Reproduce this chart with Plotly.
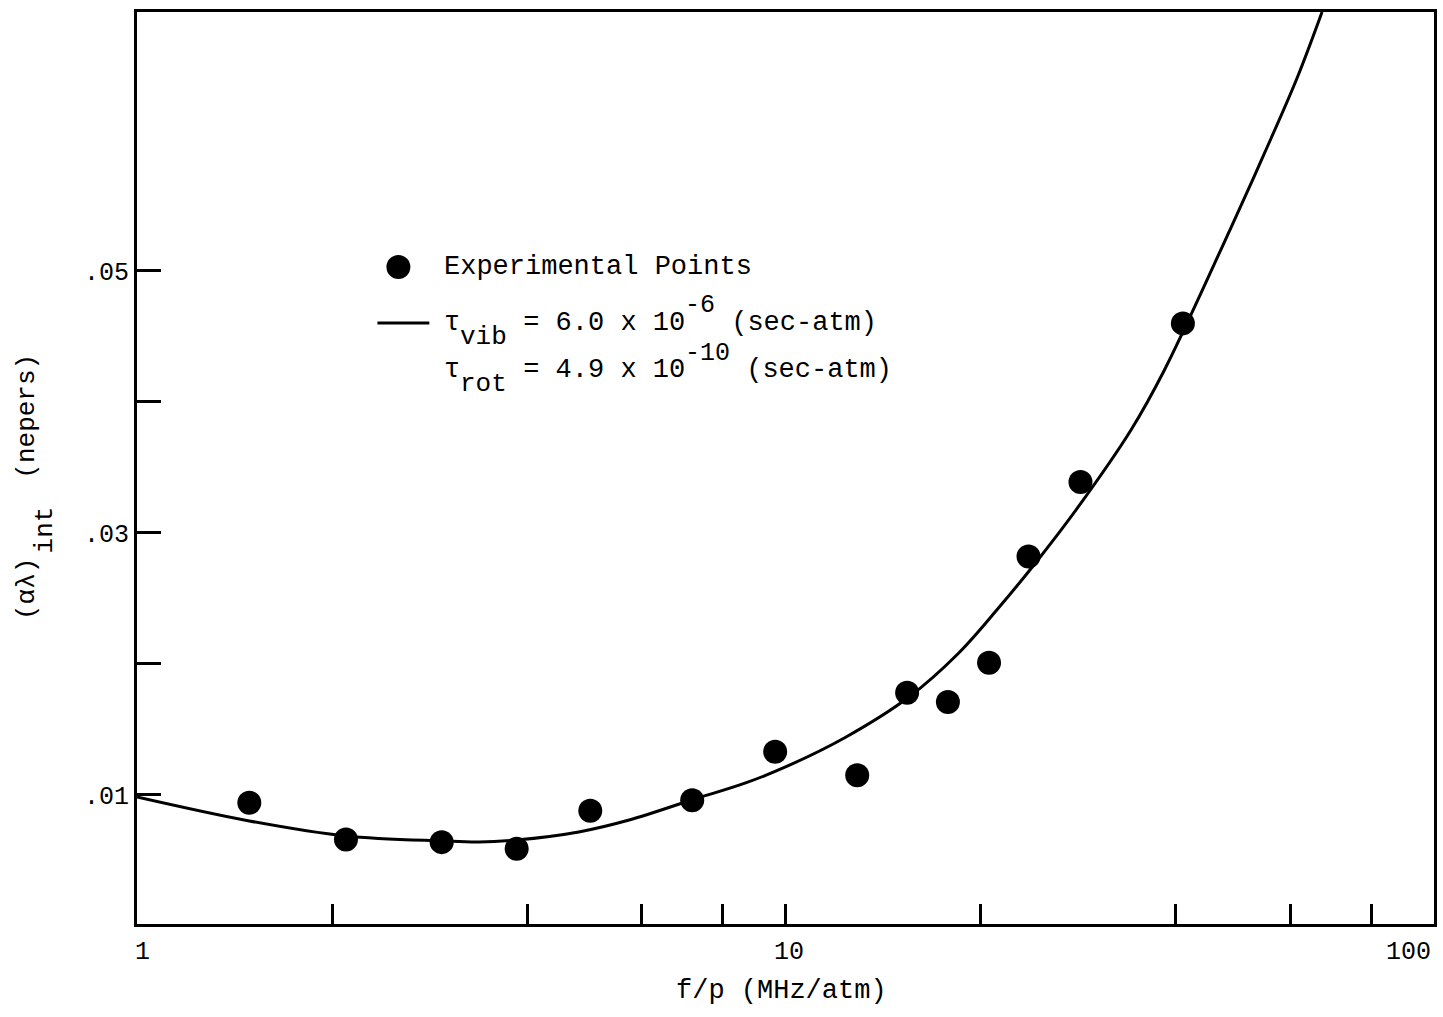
import math
import plotly.graph_objects as go

# Experimental points (f/p in MHz/atm, (alpha*lambda)_int in nepers)
fp_exp = [1.49, 2.10, 2.95, 3.85, 5.0, 7.18, 9.64, 12.9, 15.4, 17.8, 20.6, 23.7, 28.5, 41.0]
alpha_exp = [0.0094, 0.0066, 0.0064, 0.0059, 0.0088, 0.0096, 0.0133, 0.0115,
             0.0178, 0.0171, 0.0201, 0.0282, 0.0339, 0.0460]

# Theoretical curve
fp_curve = [1.0, 1.49, 2.10, 2.96, 3.37, 3.84, 4.80, 5.74, 7.17, 8.68, 10.0, 12.4,
            15.5, 18.5, 21.3, 24.5, 28.2, 34.1, 38.4, 48.6, 54.8, 61.5, 67.2]
alpha_curve = [0.00985, 0.00802, 0.00687, 0.00649, 0.00641, 0.00656, 0.00718,
               0.00809, 0.00962, 0.01092, 0.01214, 0.01443, 0.01748, 0.02084,
               0.02427, 0.02794, 0.03191, 0.03786, 0.04244, 0.05328, 0.05901,
               0.06473, 0.06977]

x_tick_vals = [2, 4, 6, 8, 10, 20, 40, 60, 80]
x_label_vals = [1, 10, 100]
x_label_text = ["1", "10", "100"]
y_tick_vals = [0.01, 0.02, 0.03, 0.04, 0.05]
y_tick_text = [".01", "", ".03", "", ".05"]

legend_points = "Experimental Points"
# (text, vertical shift in px: + is down, font size)
legend_vib = [("τ", 0, 27), ("vib", 14, 26), (" = 6.0 x 10", 0, 27), ("-6", -17, 25), (" (sec-atm)", 0, 27)]
legend_rot = [("τ", 0, 27), ("rot", 14, 26), (" = 4.9 x 10", 0, 27), ("-10", -17, 25), (" (sec-atm)", 0, 27)]
# (text, sideways shift, font size, gap before piece)
y_title = [("(αλ)", 0, 26, 0), ("int", 18, 26, 4), ("(nepers)", 0, 26, 28)]
x_title = "f/p (MHz/atm)"

FONT = "Liberation Mono"
ADV = 0.6  # monospace advance in em
L, R, T, B = 137, 1437, 12, 924
W, H = R - L, B - T


def px(x):
    return (x - L) / W


def py(y):
    return (B - y) / H


fig = go.Figure()
fig.add_trace(go.Scatter(
    x=fp_exp, y=alpha_exp, mode="markers",
    marker=dict(size=24, color="black"),
    name=legend_points, showlegend=False,
))
fig.add_trace(go.Scatter(
    x=fp_curve, y=alpha_curve, mode="lines",
    line=dict(color="black", width=3, shape="spline", smoothing=1.0),
    name="curve", showlegend=False,
))

fig.update_layout(
    width=1443, height=1017,
    margin=dict(l=L, r=1443 - R, t=T, b=1017 - B),
    plot_bgcolor="white", paper_bgcolor="white",
    font=dict(family=FONT, size=24, color="black"),
    showlegend=False,
)
fig.update_xaxes(
    type="log", range=[0, 2],
    showline=True, linecolor="black", linewidth=3, mirror=True,
    ticks="inside", ticklen=20, tickwidth=2.5, tickcolor="black",
    tickvals=x_tick_vals, showticklabels=False,
    showgrid=False, zeroline=False,
)
fig.update_yaxes(
    range=[0.00015, 0.06977],
    showline=True, linecolor="black", linewidth=3, mirror=True,
    ticks="inside", ticklen=24, tickwidth=2.5, tickcolor="black",
    tickvals=y_tick_vals, ticktext=y_tick_text,
    tickfont=dict(family=FONT, size=25, color="black"),
    showgrid=False, zeroline=False,
)

# x tick labels (placed under the axis)
shifts = [5, 3, -26]
for v, t, s in zip(x_label_vals, x_label_text, shifts):
    fig.add_annotation(
        x=math.log10(v), xref="x", y=py(952), yref="paper",
        text=t, showarrow=False, xshift=s, yanchor="middle", xanchor="center",
        font=dict(family=FONT, size=25, color="black"),
    )

# x axis title
fig.add_annotation(
    x=px(783), xref="paper", y=py(991), yref="paper",
    text=x_title, showarrow=False, xanchor="center", yanchor="middle",
    font=dict(family=FONT, size=27, color="black"),
)

# y axis title, built from pieces reading bottom-to-top
ypos = 620.0
for text, shift, size, gap in y_title:
    ypos -= gap
    length = len(text) * ADV * size
    fig.add_annotation(
        x=px(27 + shift), xref="paper", y=py(ypos - length / 2), yref="paper",
        text=text, showarrow=False, textangle=-90,
        xanchor="center", yanchor="middle",
        font=dict(family=FONT, size=size, color="black"),
    )
    ypos -= length


def text_line(pieces, x0, yc):
    x = x0
    for text, shift, size in pieces:
        fig.add_annotation(
            x=px(x), xref="paper", y=py(yc + shift), yref="paper",
            text=text.replace(" ", "&nbsp;"), showarrow=False,
            xanchor="left", yanchor="middle",
            font=dict(family=FONT, size=size, color="black"),
        )
        x += len(text) * ADV * size


# legend keys and texts
fig.add_shape(type="circle", xref="paper", yref="paper",
              x0=px(387), x1=px(411), y0=py(279), y1=py(255),
              fillcolor="black", line=dict(color="black", width=0))
fig.add_shape(type="line", xref="paper", yref="paper",
              x0=px(378), x1=px(430), y0=py(323), y1=py(323),
              line=dict(color="black", width=3))
text_line([(legend_points, 0, 27)], 443, 267)
text_line(legend_vib, 443, 323)
text_line(legend_rot, 443, 370)

fig.write_html("out.html")
